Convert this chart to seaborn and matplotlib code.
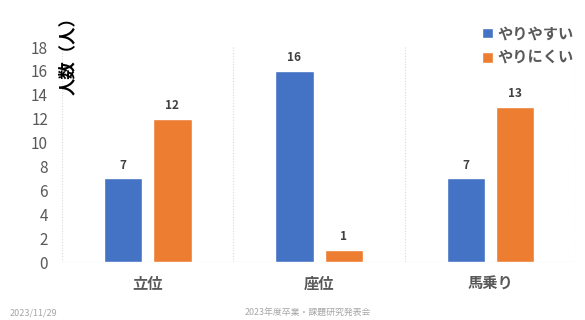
import matplotlib
matplotlib.use("Agg")
import matplotlib.pyplot as plt
import seaborn as sns
import pandas as pd

sns.set_theme(style="white")
plt.rcParams["font.family"] = ["Noto Sans CJK JP", "DejaVu Sans"]

# Data
postures = ["立位", "座位", "馬乗り"]
easy = [7, 16, 7]
hard = [12, 1, 13]
series_names = ["やりやすい", "やりにくい"]
colors = ["#4472C4", "#ED7D31"]
y_ticks = [0, 2, 4, 6, 8, 10, 12, 14, 16, 18]

df = pd.DataFrame({
    "姿勢": postures * 2,
    "人数": easy + hard,
    "評価": [series_names[0]] * len(postures) + [series_names[1]] * len(postures),
})

fig = plt.figure(figsize=(5.85, 3.2), dpi=100)
ax = fig.add_axes([0.106, 0.181, 0.879, 0.672])

sns.barplot(data=df, x="姿勢", y="人数", hue="評価", order=postures,
            hue_order=series_names, palette=colors, width=0.576, gap=0.224,
            saturation=1, ax=ax, legend=True)

grey = "#595959"
ax.set_xlim(-0.5, 2.5)
ax.set_ylim(0, 18)
ax.set_yticks(y_ticks)
ax.set_yticklabels([str(t) for t in y_ticks], fontsize=11, color=grey)
ax.set_xticks(range(len(postures)))
ax.set_xticklabels(postures, fontsize=11, fontweight="bold", color=grey)
ax.tick_params(axis="x", pad=10, length=0)
ax.tick_params(axis="y", pad=10, length=0)
ax.set_xlabel("")
ax.set_ylabel("")

for s in ax.spines.values():
    s.set_visible(False)
ax.axhline(0, color="#D9D9D9", lw=0.8, zorder=0)
for xs in [-0.5, 0.5, 1.5, 2.5]:
    ax.axvline(xs, color="#D9D9D9", lw=0.8, ls=(0, (1, 1.5)), zorder=0)

for cont in ax.containers:
    ax.bar_label(cont, fmt="%d", padding=5, fontsize=8.5, fontweight="bold",
                 color="#404040")

leg = ax.legend(loc="upper left", bbox_to_anchor=(0.79, 1.165), frameon=False,
                handlelength=0.7, handleheight=0.7, handletextpad=0.3,
                labelspacing=0.55, fontsize=11)
for t in leg.get_texts():
    t.set_color(grey)
    t.set_fontweight("bold")

fig.text(68 / 585, 1 - 52 / 320, "人数（人）", rotation=90, ha="center",
         va="center", fontsize=12.5, fontweight="bold", color="black")

fig.text(10 / 585, 1 - 313 / 320, "2023/11/29", fontsize=6.5, color="#A6A6A6",
         ha="left", va="center")
fig.text(308 / 585, 1 - 313 / 320, "2023年度卒業・課題研究発表会", fontsize=6.4,
         color="#A6A6A6", ha="center", va="center")

fig.savefig("out.png", dpi=100)
